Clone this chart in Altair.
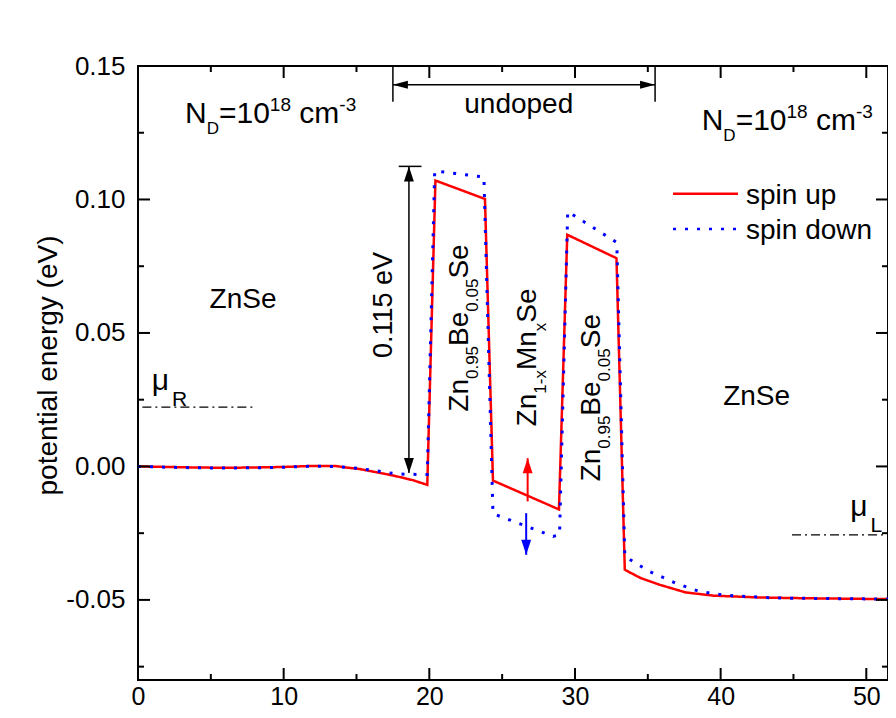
import altair as alt
import pandas as pd

FONT = "Liberation Sans"
W, H = 750, 614
X_DOMAIN = [0, 51.49]
Y_DOMAIN = [-0.08, 0.15]

# ---- series -------------------------------------------------------------
series_names = ["spin up", "spin down"]
series_colors = ["#ff0000", "#0000ff"]
series_dash = [[1, 0], [3, 9]]

x_spin_up = [0, 2, 4, 6, 8, 10, 12, 13.5, 14.3, 15.24, 16.1, 17.07, 18.0, 18.9, 19.86,
             20.42, 23.82, 24.37, 28.9, 29.47, 32.85, 33.42,
             34.5, 35.8, 37.6, 39.5, 42.7, 46.1, 51.49]
y_spin_up = [0.0, -0.0002, -0.0004, -0.0005, -0.0004, -0.0002, 0.0002, 0.0002, -0.0004,
             -0.0010, -0.0019, -0.0029, -0.0040, -0.0052, -0.0069,
             0.1071, 0.1002, -0.0053, -0.0161, 0.0868, 0.0780, -0.0387,
             -0.0418, -0.0443, -0.0472, -0.0484, -0.0491, -0.0494, -0.0497]

x_spin_down = [0, 2, 4, 6, 8, 10, 12, 13.5, 14.5, 15.5, 16.4, 17.3, 18.3, 19.3, 19.86,
               20.37, 23.75, 24.37, 28.5, 28.94, 29.5, 32.87, 33.42,
               35.1, 36.9, 38.5, 40.4, 43.8, 51.49]
y_spin_down = [0.0, -0.0003, -0.0005, -0.0006, -0.0005, -0.0003, 0.0001, 0.0000, -0.0004,
               -0.0010, -0.0017, -0.0025, -0.0029, -0.0030, -0.0030,
               0.1107, 0.1084, -0.0177, -0.0262, -0.0256, 0.0955, 0.0839, -0.0337,
               -0.0393, -0.0437, -0.0468, -0.0483, -0.0493, -0.0497]

# ---- axes ticks ---------------------------------------------------------
x_major = [0, 10, 20, 30, 40, 50]
x_minor = [5, 15, 25, 35, 45]
y_major = [-0.05, 0.0, 0.05, 0.10, 0.15]
y_minor = [-0.075, -0.025, 0.025, 0.075, 0.125]
y_title = "potential energy (eV)"

# ---- annotation values --------------------------------------------------
mu_levels_y = [0.0222, -0.0256]
mu_levels_x1 = [0.3, 44.9]
mu_levels_x2 = [8.0, 51.49]
mu_labels = [["μ", "R"], ["μ", "L"]]
mu_label_pos = [(0.94, 0.0287), (48.9, -0.0187)]

nd_segments = ["N", "D", "=10", "18", " cm", "-3"]
nd_pos = [(3.23, 0.1286), (38.7, 0.1261)]

zone_labels = ["ZnSe", "ZnSe"]
zone_pos = [(7.21, 0.0594), (42.47, 0.0231)]

barrier_segments = ["Zn", "0.95", "Be", "0.05", "Se"]
well_segments = ["Zn", "1-x", "Mn", "x", "Se"]
barrier_pos = [(22.63, 0.0205), (31.69, -0.0056)]
well_pos = (27.34, 0.0150)

gap_label = "0.115 eV"
gap_label_pos = (17.42, 0.0406)
gap_arrow_x = 18.6
gap_arrow_y = [-0.0025, 0.1124]
gap_bar_x = [17.9, 19.46]

undoped_label = "undoped"
undoped_label_pos = (26.14, 0.1324)
undoped_arrow_y = 0.143
undoped_arrow_x = [17.5, 35.5]
undoped_bar_y = [0.1366, 0.15]

spin_arrow_x = [26.75, 26.65]
spin_arrow_from = [-0.0131, -0.0175]
spin_arrow_to = [0.0031, -0.0331]

legend_row_y = [0.1021, 0.0889]
legend_line_x = [36.73, 41.19]
legend_text_x = 41.74

# ---- scales / shared axes ----------------------------------------------
xs = alt.Scale(domain=X_DOMAIN, nice=False, zero=False)
ys = alt.Scale(domain=Y_DOMAIN, nice=False, zero=False)
color_scale = alt.Scale(domain=series_names, range=series_colors)
dash_scale = alt.Scale(domain=series_names, range=series_dash)

y_label_expr = "(datum.value < 0 ? '-' : '') + format(abs(datum.value), '.2f')"

X_AXIS = alt.Axis(values=x_major, ticks=False, domain=False, grid=False,
                  labelFontSize=25, labelPadding=4, labelFlush=False,
                  labelOverlap=False, labelFont=FONT, labelColor='black')
Y_AXIS = alt.Axis(values=y_major, ticks=False, domain=False, grid=False,
                  labelFontSize=26, labelPadding=13, labelFlush=False,
                  labelOverlap=False, labelFont=FONT, labelColor='black',
                  labelExpr=y_label_expr,
                  titleFont=FONT, titleFontSize=28, titleFontWeight='normal',
                  titleColor='black', titleX=-82, titleY=299, titleAngle=270,
                  titleAlign='center', titleBaseline='alphabetic')

CW = {'Z': .611, 'n': .556, 'S': .667, 'e': .556, 'B': .667, 'M': .833, 'x': .5,
      '.': .278, '-': .333, 'N': .722, 'D': .722, '=': .584, ' ': .278, 'c': .5,
      'm': .833, 'μ': .576, 'R': .722, 'L': .556}


def tw(s, size):
    return sum(CW.get(ch, .556) for ch in s) * size


def xq(f='x'):
    return alt.X(f'{f}:Q', scale=xs, axis=X_AXIS, title=None)


def yq(f='y'):
    return alt.Y(f'{f}:Q', scale=ys, axis=Y_AXIS, title=y_title)


def rich(x, y, segs, angle=0, color="black"):
    layers = []
    adv = 0.0
    for seg in segs:
        txt, size, shift = seg[:3]
        extra = seg[3] if len(seg) > 3 else 0
        stripped = txt.lstrip(" ")
        adv += tw(txt[:len(txt) - len(stripped)], size) + extra
        df = pd.DataFrame({'x': [x], 'y': [y], 't': [stripped]})
        layers.append(
            alt.Chart(df).mark_text(align='left', baseline='alphabetic', font=FONT,
                                    fontSize=size, angle=angle, dx=adv, dy=shift,
                                    color=color)
            .encode(x=xq(), y=yq(), text='t:N'))
        adv += tw(stripped, size)
    return layers


UP = "M0,0 L-0.33,1 L0.33,1 Z"
DOWN = "M0,0 L-0.33,-1 L0.33,-1 Z"
LEFT = "M0,0 L1,-0.27 L1,0.27 Z"
RIGHT = "M0,0 L-1,-0.27 L-1,0.27 Z"


def head(x, y, shape, color="black", size=900):
    df = pd.DataFrame({'x': [x], 'y': [y]})
    return alt.Chart(df).mark_point(shape=shape, filled=True, size=size, opacity=1,
                                    color=color, strokeWidth=0).encode(x=xq(), y=yq())


def rule(x1, x2, y1, y2, color="black", width=1.5, dash=None):
    df = pd.DataFrame({'x': [x1], 'x2': [x2], 'y': [y1], 'y2': [y2]})
    kw = dict(color=color, strokeWidth=width)
    if dash is not None:
        kw['strokeDash'] = dash
    return alt.Chart(df).mark_rule(**kw).encode(
        x=xq(), x2=alt.X2('x2:Q'), y=yq(), y2=alt.Y2('y2:Q'))


# ---- main lines ---------------------------------------------------------
df_up = pd.DataFrame({'x': x_spin_up, 'y': y_spin_up, 'series': series_names[0],
                      'i': range(len(x_spin_up))})
df_dn = pd.DataFrame({'x': x_spin_down, 'y': y_spin_down, 'series': series_names[1],
                      'i': range(len(x_spin_down))})

red = alt.Chart(df_up).mark_line(strokeWidth=2.5).encode(
    x=xq(), y=yq(),
    color=alt.Color('series:N', scale=color_scale, legend=None),
    strokeDash=alt.StrokeDash('series:N', scale=dash_scale, legend=None),
    order='i:Q')

blue = alt.Chart(df_dn).mark_line(strokeWidth=3).encode(
    x=xq(), y=yq(),
    color=alt.Color('series:N', scale=color_scale, legend=None),
    strokeDash=alt.StrokeDash('series:N', scale=dash_scale, legend=None),
    order='i:Q')

layers = [red, blue]


# ---- inward ticks -------------------------------------------------------
def xticks(vals, length):
    df = pd.DataFrame({'v': vals})
    base = alt.Chart(df).mark_rule(color='black', strokeWidth=2)
    return [base.encode(x=xq('v'), y=alt.value(H), y2=alt.value(H - length)),
            base.encode(x=xq('v'), y=alt.value(0), y2=alt.value(length))]


def yticks(vals, length):
    df = pd.DataFrame({'v': vals})
    base = alt.Chart(df).mark_rule(color='black', strokeWidth=2)
    return [base.encode(y=yq('v'), x=alt.value(0), x2=alt.value(length)),
            base.encode(y=yq('v'), x=alt.value(W), x2=alt.value(W - length))]


layers += xticks(x_major, 12) + xticks(x_minor, 6) + yticks(y_major, 12) + yticks(y_minor, 6)

# ---- chemical potential levels -----------------------------------------
for yv, xa, xb, lab, pos in zip(mu_levels_y, mu_levels_x1, mu_levels_x2, mu_labels, mu_label_pos):
    layers.append(rule(xa, xb, yv, yv, width=1.3, dash=[9, 4, 2, 4]))
    layers += rich(pos[0], pos[1], [(lab[0], 30, 0), (lab[1], 21, 16, 3)])

# ---- N_D labels ---------------------------------------------------------
nd_sizes = [(30, 0), (17, 11), (30, 0), (19, -12), (30, 0), (19, -12)]
for px, py in nd_pos:
    layers += rich(px, py, [(s, sz, sh) for s, (sz, sh) in zip(nd_segments, nd_sizes)])

# ---- zone labels --------------------------------------------------------
for lab, (px, py) in zip(zone_labels, zone_pos):
    df = pd.DataFrame({'x': [px], 'y': [py], 't': [lab]})
    layers.append(alt.Chart(df).mark_text(align='center', baseline='alphabetic', font=FONT,
                                          fontSize=28, color='black')
                  .encode(x=xq(), y=yq(), text='t:N'))

comp_sizes = [(28, 0), (17, 10), (28, 0), (17, 10), (28, 0)]
for px, py in barrier_pos:
    layers += rich(px, py, [(s, sz, sh) for s, (sz, sh) in zip(barrier_segments, comp_sizes)], angle=270)
layers += rich(well_pos[0], well_pos[1],
               [(s, sz, sh) for s, (sz, sh) in zip(well_segments, comp_sizes)], angle=270)

# ---- 0.115 eV gap arrow -------------------------------------------------
layers += rich(gap_label_pos[0], gap_label_pos[1], [(gap_label, 27, 0)], angle=270)
layers.append(rule(gap_arrow_x, gap_arrow_x, gap_arrow_y[0], gap_arrow_y[1], width=1.5))
layers.append(rule(gap_bar_x[0], gap_bar_x[1], gap_arrow_y[1], gap_arrow_y[1], width=1.5))
layers.append(head(gap_arrow_x, gap_arrow_y[1], UP))
layers.append(head(gap_arrow_x, gap_arrow_y[0], DOWN))

# ---- undoped arrow ------------------------------------------------------
df_u = pd.DataFrame({'x': [undoped_label_pos[0]], 'y': [undoped_label_pos[1]], 't': [undoped_label]})
layers.append(alt.Chart(df_u).mark_text(align='center', baseline='alphabetic', font=FONT,
                                        fontSize=28, color='black')
              .encode(x=xq(), y=yq(), text='t:N'))
layers.append(rule(undoped_arrow_x[0], undoped_arrow_x[1], undoped_arrow_y, undoped_arrow_y, width=1.5))
for xv in undoped_arrow_x:
    layers.append(rule(xv, xv, undoped_bar_y[0], undoped_bar_y[1], width=1.5))
layers.append(head(undoped_arrow_x[0], undoped_arrow_y, LEFT))
layers.append(head(undoped_arrow_x[1], undoped_arrow_y, RIGHT))

# ---- spin arrows --------------------------------------------------------
for xv, y0, y1, col, shp in zip(spin_arrow_x, spin_arrow_from, spin_arrow_to, series_colors, [UP, DOWN]):
    layers.append(rule(xv, xv, y0, y1, color=col, width=2))
    layers.append(head(xv, y1, shp, color=col, size=900))

# ---- legend -------------------------------------------------------------
df_leg = pd.DataFrame({'x': legend_line_x[0], 'x2': legend_line_x[1], 'y': legend_row_y,
                       'series': series_names, 'tx': legend_text_x})
layers.append(alt.Chart(df_leg).mark_rule(strokeWidth=2.5).encode(
    x=xq(), x2=alt.X2('x2:Q'), y=yq(),
    color=alt.Color('series:N', scale=color_scale, legend=None),
    strokeDash=alt.StrokeDash('series:N', scale=dash_scale, legend=None)))
layers.append(alt.Chart(df_leg).mark_text(align='left', baseline='alphabetic', font=FONT,
                                          fontSize=28, dy=10, color='black').encode(
    x=xq('tx'), y=yq(), text='series:N'))

chart = alt.layer(*layers).properties(
    width=W, height=H,
    autosize=alt.AutoSizeParams(type="none"),
    padding={"left": 130, "top": 58, "right": 0, "bottom": 29},
).configure_view(stroke="black", strokeWidth=2)

chart.save("out.html", embed_options={"renderer": "svg", "actions": False})
